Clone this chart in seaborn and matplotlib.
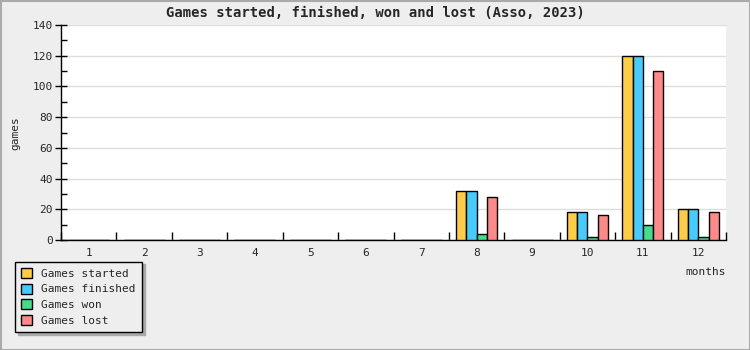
import numpy as np
import pandas as pd
import matplotlib
matplotlib.use("Agg")
import matplotlib.pyplot as plt
import seaborn as sns
from matplotlib.patches import Rectangle

months = [str(m) for m in range(1, 13)]
series_names = ["Games started", "Games finished", "Games won", "Games lost"]
started = [0, 0, 0, 0, 0, 0, 0, 32, 0, 18, 120, 20]
finished = [0, 0, 0, 0, 0, 0, 0, 32, 0, 18, 120, 20]
won = [0, 0, 0, 0, 0, 0, 0, 4, 0, 2, 10, 2]
lost = [0, 0, 0, 0, 0, 0, 0, 28, 0, 16, 110, 18]
colors = ["#ffcc44", "#44ccff", "#44dd88", "#ff8888"]

rows = []
for name, vals in zip(series_names, [started, finished, won, lost]):
    for m, v in zip(months, vals):
        rows.append({"month": m, "value": v, "series": name})
df = pd.DataFrame(rows)

sns.set_theme(style="white")
plt.rcParams["font.family"] = ["DejaVu Sans Mono"]

fig = plt.figure(figsize=(7.5, 3.5), dpi=100, facecolor="#eeeeee")
ax = fig.add_axes([61/750, 1-240/350, (726-61)/750, (240-25)/350])
ax.set_facecolor("white")

sns.barplot(data=df, x="month", y="value", hue="series", order=months,
            hue_order=series_names, palette=colors, saturation=1, width=0.74,
            edgecolor="black", linewidth=1, ax=ax, legend=True, zorder=3)

ax.set_ylim(0, 140)
ax.set_xlim(-0.5, 11.5)
ax.set_yticks(np.arange(0, 141, 20))
ax.set_yticks(np.arange(10, 140, 20), minor=True)
ax.set_xticks(np.arange(-0.5, 12, 1), minor=True)
ax.grid(axis="y", which="major", color="#dddddd", linewidth=1, zorder=0)
ax.set_axisbelow(True)
ax.tick_params(axis="y", which="major", direction="inout", length=8, width=1,
               color="black", labelsize=8, left=True, pad=2)
ax.tick_params(axis="y", which="minor", direction="in", length=4, width=1,
               color="black", left=True)
ax.tick_params(axis="x", which="major", length=0, labelsize=8, pad=6)
ax.tick_params(axis="x", which="minor", direction="in", length=6, width=1,
               color="black", bottom=True)
for s in ["top", "right"]:
    ax.spines[s].set_visible(False)
for s in ["left", "bottom"]:
    ax.spines[s].set_color("black")
    ax.spines[s].set_linewidth(1)
ax.set_xlabel("")
ax.set_ylabel("")

handles, labels = ax.get_legend_handles_labels()
ax.get_legend().remove()
leg = fig.legend(handles, labels, loc="lower left", bbox_to_anchor=(15/750, 18/350),
                 borderaxespad=0,
                 frameon=True, fancybox=False, shadow={"color": "#aaaaaa", "alpha": 1},
                 edgecolor="black", facecolor="#eeeeee", framealpha=1,
                 fontsize=8, handlelength=1.0, handleheight=1.0,
                 labelspacing=0.45, borderpad=0.55, handletextpad=0.8)
leg.get_frame().set_linewidth(1)
for h in leg.legend_handles:
    h.set_edgecolor("black")
    h.set_linewidth(1)

fig.text(0.5, 1-13/350, "Games started, finished, won and lost (Asso, 2023)",
         ha="center", va="center", fontsize=10, fontweight="bold")
fig.text(15/750, 1-133/350, "games", rotation=90, ha="center", va="center", fontsize=8)
fig.text(726/750, 1-272/350, "months", ha="right", va="center", fontsize=8)

fig.patches.append(Rectangle((0.5/750, 0.5/350), 1-1/750, 1-1/350, transform=fig.transFigure,
                             fill=False, edgecolor="#aaaaaa", linewidth=1.5))

fig.savefig("out.png", dpi=100, facecolor=fig.get_facecolor())
